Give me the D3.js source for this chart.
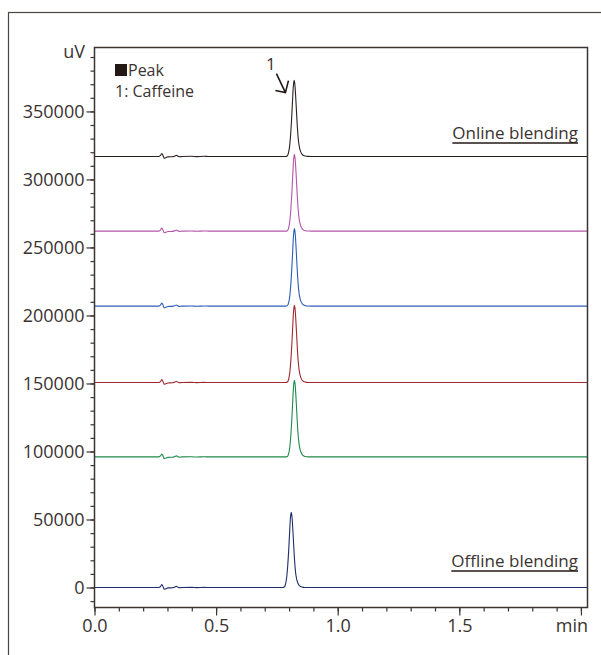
<!DOCTYPE html>
<meta charset="utf-8">
<head>
  <style>
    body { margin:0; background:#fff; }
    text { font-family: "Open Sans", "Noto Sans", sans-serif; fill:#3a3331; }
  </style>
  <script src="https://d3js.org/d3.v7.min.js"></script>
</head>
<body>
<svg width="601" height="655"></svg>
<script>
  // traces top to bottom
  var traceNames = ["Online blending", "run 2", "run 3", "run 4", "run 5", "Offline blending"]
  var traceColors = ["#2b2220", "#b455aa", "#2c5db6", "#9e2a30", "#1f8a4b", "#1f2e6b"]
  var baselines = [316900, 262000, 206900, 150700, 96000, 0]
  var apexTimes = [0.821, 0.822, 0.822, 0.822, 0.822, 0.809]
  var peakHeights = [55900, 56400, 57000, 56800, 56400, 55300]

  // peak shape: [time from apex (min), fraction of height]
  var peakShape = [
    [-0.036, 0], [-0.029, 0.006], [-0.024, 0.04], [-0.019, 0.13], [-0.015, 0.27],
    [-0.011, 0.47], [-0.007, 0.72], [-0.004, 0.9], [-0.002, 0.97], [0, 1],
    [0.002, 0.97], [0.004, 0.9], [0.007, 0.74], [0.010, 0.56], [0.013, 0.39],
    [0.016, 0.26], [0.019, 0.17], [0.023, 0.1], [0.027, 0.06], [0.032, 0.03],
    [0.038, 0.013], [0.046, 0.005], [0.056, 0.001], [0.07, 0]
  ]

  // small baseline disturbances: [time (min), uV]
  var baselineWiggles = [
    [0.265, 0], [0.272, 900], [0.277, 2200], [0.282, 600], [0.287, -1300],
    [0.293, -900], [0.302, -300], [0.320, -200], [0.330, 300], [0.337, 800],
    [0.343, 200], [0.350, -200], [0.360, 0], [0.40, 100], [0.42, -100],
    [0.45, 100], [0.47, 0]
  ]

  var yMajor = [0, 50000, 100000, 150000, 200000, 250000, 300000, 350000]
  var yMinor = d3.range(-10000, 390001, 10000)
  var xMajor = [0, 0.5, 1.0, 1.5, 2.0]
  var xMinor = d3.range(0, 2.001, 0.1)

  var svg = d3.select("svg")
  var plotL = 94.5, plotR = 587.5, plotT = 47.5, plotB = 607.5

  var x = d3.scaleLinear().domain([0, 2.027]).range([plotL, plotR])
  var y = d3.scaleLinear().domain([-14700, 397000]).range([plotB, plotT])

  // outer frame
  svg.append("rect")
    .attr("x", 8.5).attr("y", 12.5).attr("width", 620).attr("height", 700)
    .attr("fill", "none").attr("stroke", "#4a4442").attr("stroke-width", 1.2)

  // build each trace
  function tracePoints(i) {
    var pts = [[0, 0]]
    baselineWiggles.forEach(function (p) { pts.push([p[0], p[1]]) })
    peakShape.forEach(function (p) { pts.push([apexTimes[i] + p[0], p[1] * peakHeights[i]]) })
    pts.push([2.027, 0])
    return pts.map(function (p) { return [p[0], p[1] + baselines[i]] })
  }

  var line = d3.line()
    .x(function (d) { return x(d[0]) })
    .y(function (d) { return y(d[1]) })
    .curve(d3.curveMonotoneX)

  svg.append("g").selectAll("path")
    .data(traceNames)
    .enter().append("path")
      .attr("d", function (d, i) { return line(tracePoints(i)) })
      .attr("fill", "none")
      .attr("stroke", function (d, i) { return traceColors[i] })
      .attr("stroke-width", 1.1)

  // plot frame
  svg.append("rect")
    .attr("x", plotL).attr("y", plotT).attr("width", plotR - plotL).attr("height", plotB - plotT)
    .attr("fill", "none").attr("stroke", "#3c3431").attr("stroke-width", 1.5)

  // y axis ticks
  var yAxisMinor = d3.axisLeft(y).tickValues(yMinor).tickSize(4).tickFormat("")
  var yAxisMajor = d3.axisLeft(y).tickValues(yMajor).tickSize(8).tickPadding(2).tickFormat(d3.format("d"))
  svg.append("g").attr("transform", "translate(" + plotL + ",0)").call(yAxisMinor)
  svg.append("g").attr("transform", "translate(" + plotL + ",0)").call(yAxisMajor)

  // x axis ticks
  var xAxisMinor = d3.axisBottom(x).tickValues(xMinor).tickSize(4).tickFormat("")
  var xAxisMajor = d3.axisBottom(x).tickValues(xMajor).tickSize(8).tickPadding(4)
    .tickFormat(function (d) { return d === 2 ? "" : d3.format(".1f")(d) })
  svg.append("g").attr("transform", "translate(0," + plotB + ")").call(xAxisMinor)
  svg.append("g").attr("transform", "translate(0," + plotB + ")").call(xAxisMajor)

  svg.selectAll(".domain").remove()
  svg.selectAll(".tick line").attr("stroke", "#3c3431").attr("stroke-width", 1.2)
  svg.selectAll(".tick text").attr("font-size", 18).style("fill", "#3a3331")
    .attr("font-family", "'Open Sans', 'Noto Sans', sans-serif")

  // axis units
  svg.append("text").attr("x", 85).attr("y", 58).attr("text-anchor", "end")
    .attr("font-size", 18).text("uV")
  svg.append("text").attr("x", 588).attr("y", 632).attr("text-anchor", "end")
    .attr("font-size", 18).text("min")

  // legend
  svg.append("rect").attr("x", 115).attr("y", 64).attr("width", 12).attr("height", 12).attr("fill", "#231815")
  svg.append("text").attr("x", 128).attr("y", 76).attr("font-size", 16).text("Peak")
  svg.append("text").attr("x", 115).attr("y", 97).attr("font-size", 16).text("1: Caffeine")

  // peak label and arrow
  var tipX = x(apexTimes[0] - 0.036), tipY = y(baselines[0] + peakHeights[0] * 0.84)
  svg.append("text").attr("x", 266).attr("y", 70).attr("font-size", 17).text("1")
  svg.append("path")
    .attr("d", "M" + (tipX - 9) + "," + (tipY - 19) + "L" + tipX + "," + tipY +
      "M" + (tipX - 10) + "," + (tipY - 2) + "L" + tipX + "," + tipY + "L" + (tipX + 3) + "," + (tipY - 12))
    .attr("fill", "none").attr("stroke", "#231815").attr("stroke-width", 1.6)

  // trace labels
  function underlinedLabel(txt, yy) {
    var t = svg.append("text").attr("x", 578).attr("y", yy).attr("text-anchor", "end")
      .attr("font-size", 17).text(txt)
    var w = t.node().getComputedTextLength()
    svg.append("line").attr("x1", 578 - w).attr("x2", 578).attr("y1", yy + 4).attr("y2", yy + 4)
      .attr("stroke", "#231815").attr("stroke-width", 1.3)
  }
  underlinedLabel(traceNames[0], 139)
  underlinedLabel(traceNames[5], 567)
</script>
</body>
